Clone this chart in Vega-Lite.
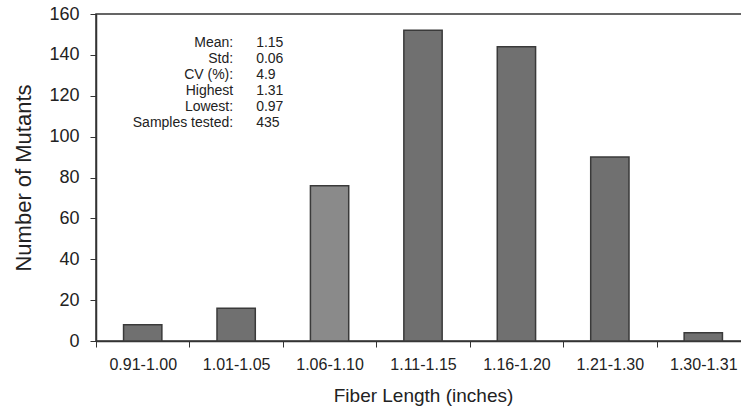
{
  "$schema": "https://vega.github.io/schema/vega-lite/v6.json",
  "autosize": "none",
  "width": 654,
  "height": 327,
  "padding": {"left": 96, "top": 14, "right": 0, "bottom": 74},
  "background": "white",
  "config": {
    "font": "Liberation Sans",
    "view": {"stroke": "#333333", "strokeWidth": 1.5},
    "axis": {
      "domainColor": "#333333",
      "domainWidth": 1.5,
      "tickColor": "#333333",
      "tickWidth": 1,
      "grid": false,
      "labelColor": "#222222",
      "titleColor": "#222222",
      "titleFontWeight": "normal",
      "labelFont": "Liberation Sans",
      "titleFont": "Liberation Sans"
    }
  },
  "datasets": {
    "bins": [
      {"range": "0.91-1.00", "count": 8},
      {"range": "1.01-1.05", "count": 16},
      {"range": "1.06-1.10", "count": 76},
      {"range": "1.11-1.15", "count": 152},
      {"range": "1.16-1.20", "count": 144},
      {"range": "1.21-1.30", "count": 90},
      {"range": "1.30-1.31", "count": 4}
    ],
    "stats": [
      {"stat": "Mean:", "value": "1.15"},
      {"stat": "Std:", "value": "0.06"},
      {"stat": "CV (%):", "value": "4.9"},
      {"stat": "Highest", "value": "1.31"},
      {"stat": "Lowest:", "value": "0.97"},
      {"stat": "Samples tested:", "value": "435"}
    ]
  },
  "layer": [
    {
      "data": {"name": "bins"},
      "mark": {"type": "bar", "width": {"band": 0.41}, "stroke": "#3a3a3a", "strokeWidth": 1.5},
      "encoding": {
        "x": {
          "field": "range", "type": "nominal", "sort": null,
          "scale": {"paddingInner": 0, "paddingOuter": 0},
          "axis": {
            "title": "Fiber Length (inches)",
            "labelAngle": 0,
            "labelFontSize": 16,
            "titleFontSize": 19,
            "tickBand": "extent",
            "tickSize": 6,
            "labelPadding": 9,
            "titlePadding": 14
          }
        },
        "y": {
          "field": "count", "type": "quantitative",
          "scale": {"domain": [0, 160], "nice": false},
          "axis": {
            "title": "Number of Mutants",
            "values": [0, 20, 40, 60, 80, 100, 120, 140, 160],
            "labelFontSize": 18,
            "titleFontSize": 22,
            "tickSize": 6,
            "labelPadding": 11,
            "titlePadding": 13
          }
        },
        "fill": {
          "condition": {"test": "datum.range === '1.06-1.10'", "value": "#8a8a8a"},
          "value": "#707070"
        },
        "fillOpacity": {"value": 1}
      }
    },
    {
      "data": {"name": "stats"},
      "mark": {"type": "text", "align": "right", "baseline": "middle", "fontSize": 14, "color": "#222222", "dx": -3},
      "encoding": {
        "x": {"datum": "1.01-1.05", "type": "nominal"},
        "y": {"field": "stat", "type": "nominal", "sort": null, "axis": null, "scale": {"type": "point", "range": [29, 109], "padding": 0}},
        "text": {"field": "stat"}
      }
    },
    {
      "data": {"name": "stats"},
      "mark": {"type": "text", "align": "left", "baseline": "middle", "fontSize": 14, "color": "#222222", "dx": 20},
      "encoding": {
        "x": {"datum": "1.01-1.05", "type": "nominal"},
        "y": {"field": "stat", "type": "nominal", "sort": null, "axis": null, "scale": {"type": "point", "range": [29, 109], "padding": 0}},
        "text": {"field": "value"}
      }
    }
  ],
  "resolve": {"scale": {"y": "independent"}}
}
